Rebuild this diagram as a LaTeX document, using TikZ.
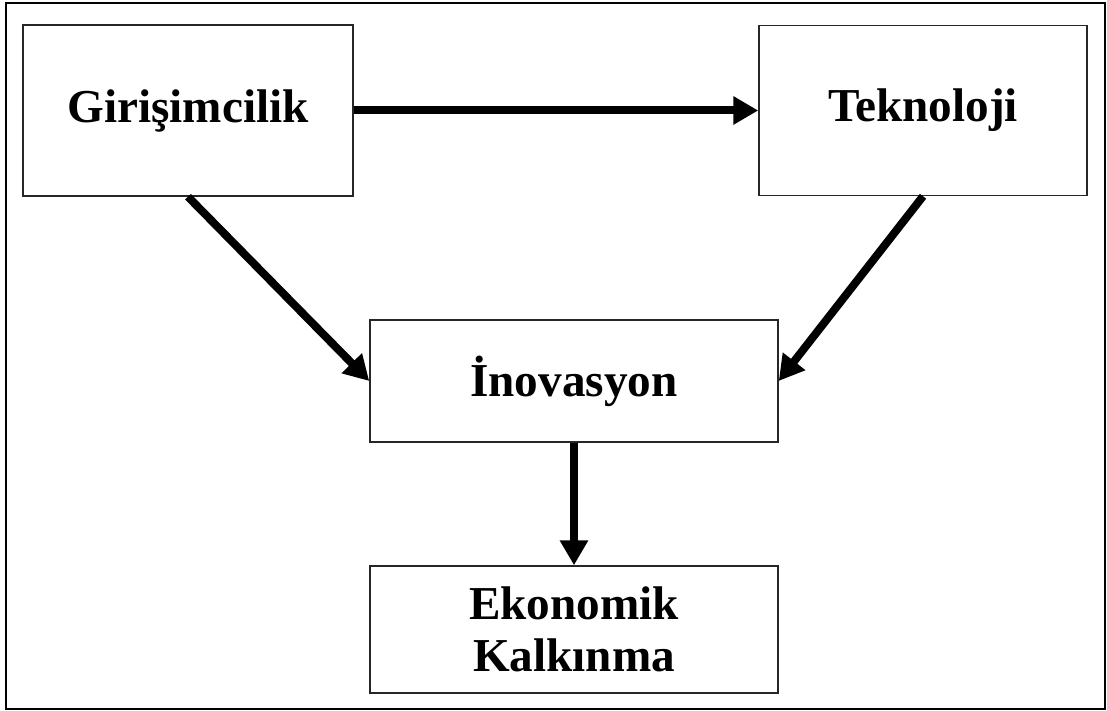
\documentclass[tikz,border=0pt]{standalone}
\usepackage{fontspec}
\setmainfont{Liberation Serif}
\usepackage{tikz}
\usetikzlibrary{arrows.meta}

\begin{document}
\begin{tikzpicture}[->,>={Triangle[length=12.5pt,width=13.5pt]},x=0.5pt,y=-0.5pt,
                    line width=4pt,
                    kutu/.style={draw=black!85,line width=0.75pt,rectangle,align=center,
                                 font=\fontsize{23.6}{26}\selectfont\bfseries}]

	\useasboundingbox (0,0) rectangle (1107,711);
	\draw[-,line width=1pt] (6,3) rectangle (1105,709);

  	\node[kutu,minimum width=165pt,minimum height=85.5pt] (gir) at (188,110.5)  	{Girişimcilik};
  	\node[kutu,minimum width=164pt,minimum height=85pt] (tek) at (923,110.5)   	{Teknoloji};
  	\node[kutu,minimum width=204pt,minimum height=61pt] (ino) at (574,381)   	{İnovasyon};
	\node[kutu,minimum width=204pt,minimum height=63.5pt] (eko) at (574,629.5)   	{Ekonomik\\Kalkınma};

	\path (gir.east) edge  	(tek.west);
	\path (gir.south) edge  	(ino.west);
	\path (tek.south) edge  	(ino.east);
	\path (ino.south) edge  	(eko.north);

\end{tikzpicture}
\end{document}
